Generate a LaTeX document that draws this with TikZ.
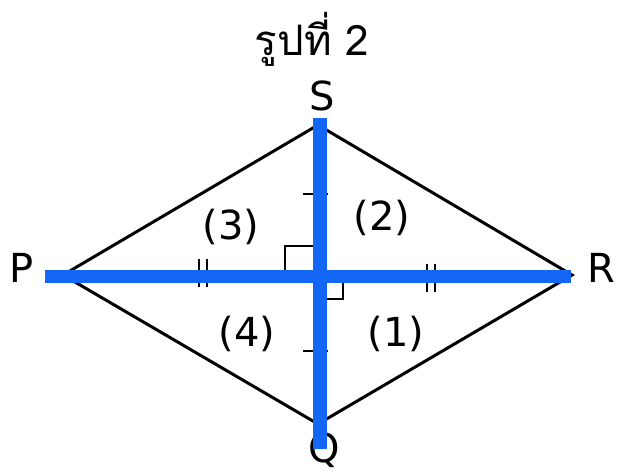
\documentclass[tikz,border=0pt]{standalone}
\usepackage{fontspec}
\setmainfont{DejaVu Sans}
\newfontfamily\thaifont[Script=Thai]{Loma}
\definecolor{diagblue}{RGB}{20,102,245}
\tikzset{
  edge/.style={black, line width=3pt},
  tick/.style={black, line width=2.8pt},
  axis/.style={diagblue, line width=13pt},
  vlabel/.style={font=\fontsize{40}{44}\selectfont, inner sep=0pt, anchor=base},
  region/.style={font=\fontsize{40}{44}\selectfont, inner sep=0pt}
}
\begin{document}
\begin{tikzpicture}[x=1pt,y=-1pt]
\useasboundingbox (0,0) rectangle (617,472);
\fill[white] (0,0) rectangle (617,472);
% vertices
\coordinate (P) at (63,275);
\coordinate (R) at (572,275);
\coordinate (S) at (318,125);
\coordinate (Q) at (318,424);
\coordinate (O) at (320,276);
% blue ends
\coordinate (bL) at (45,276);
\coordinate (bR) at (571,276);
\coordinate (bT) at (320,118);
\coordinate (bB) at (320,449);
% rhombus
\draw[edge, line join=miter] (P) -- (S) -- (R) -- (Q) -- cycle;
% ticks on vertical diagonal
\draw[tick] (303,194) -- (328,194);
\draw[tick] (303,351) -- (328,351);
% double ticks on horizontal diagonal
\draw[tick, line width=2.4pt] (199,259) -- (199,287);
\draw[tick, line width=2.4pt] (207,259) -- (207,287);
\draw[tick, line width=2.4pt] (427,264) -- (427,292);
\draw[tick, line width=2.4pt] (435,264) -- (435,292);
% right angle marks
\draw[tick] (320,246) -- (285,246) -- (285,276);
\draw[tick] (320,299) -- (343,299) -- (343,276);
% labels
\node[font=\thaifont\fontsize{42}{46}\selectfont, inner sep=0pt, anchor=base] (title) at (312,55) {รูปที่ 2};
\node[vlabel] (lS) at (322,110) {S};
\node[vlabel] (lP) at (22,282) {P};
\node[vlabel] (lR) at (601,282) {R};
\node[vlabel] (lQ) at (324,462) {Q};
\node[region] (r3) at (231,227) {(3)};
\node[region] (r2) at (382,218) {(2)};
\node[region] (r4) at (247,334) {(4)};
\node[region] (r1) at (396,334) {(1)};
% blue diagonals
\draw[axis] (bL) -- (bR);
\draw[axis, line width=14pt] (bT) -- (bB);
\end{tikzpicture}
\end{document}
